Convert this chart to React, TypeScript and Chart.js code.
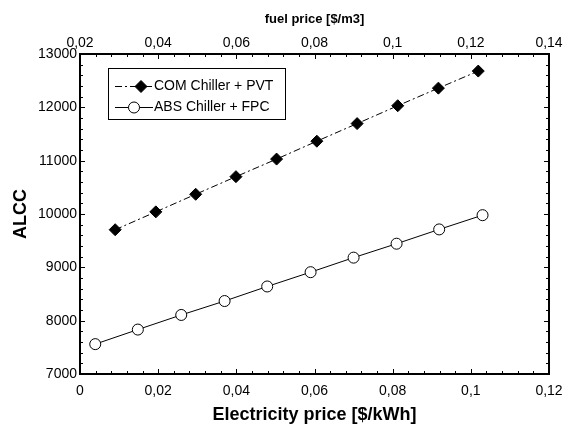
import { useEffect, useRef } from 'react';
import { Chart, registerables } from 'chart.js';

Chart.register(...registerables);

// ---- data ----
const seriesLabels = ['COM Chiller + PVT', 'ABS Chiller + FPC'];
const elecCOM = [0.009, 0.0194, 0.0296, 0.0399, 0.0503, 0.0606, 0.0709, 0.0813, 0.0917, 0.1019];
const alccCOM = [9705, 10040, 10370, 10700, 11030, 11365, 11695, 12030, 12360, 12680];
const elecABS = [0.0039, 0.0148, 0.0259, 0.037, 0.0479, 0.059, 0.07, 0.081, 0.0919, 0.103];
const alccABS = [7560, 7833, 8107, 8368, 8641, 8909, 9182, 9443, 9711, 9978];
const xTicks = [0, 0.02, 0.04, 0.06, 0.08, 0.1, 0.12];
const fuelTicks = [0.02, 0.04, 0.06, 0.08, 0.1, 0.12, 0.14];
const yTicks = [7000, 8000, 9000, 10000, 11000, 12000, 13000];

const FONT = '"Liberation Sans", Arial, sans-serif';
const fmt = (v: number) => String(Number(v.toFixed(3))).replace('.', ',');

const framePlugin = {
  id: 'frameTicksLegend',
  afterDraw(chart: any) {
    const { ctx, chartArea: a, scales } = chart;
    ctx.save();
    ctx.strokeStyle = '#000';
    ctx.lineWidth = 1;
    ctx.setLineDash([]);
    const hTicks = (scale: any, edge: number, dir: number, step: number, n: number) => {
      for (let i = 0; ; i++) {
        const v = scale.min + (i * step) / n;
        if (v > scale.max + 1e-9) break;
        const px = Math.round(scale.getPixelForValue(v)) + 0.5;
        const len = i % n === 0 ? 5 : 3;
        ctx.beginPath();
        ctx.moveTo(px, edge);
        ctx.lineTo(px, edge + dir * len);
        ctx.stroke();
      }
    };
    const vTicks = (scale: any, step: number, n: number) => {
      for (let i = 0; ; i++) {
        const v = scale.min + (i * step) / n;
        if (v > scale.max + 1e-9) break;
        const py = Math.round(scale.getPixelForValue(v)) + 0.5;
        const len = i % n === 0 ? 5 : 3;
        ctx.beginPath();
        ctx.moveTo(a.left, py);
        ctx.lineTo(a.left + len, py);
        ctx.moveTo(a.right, py);
        ctx.lineTo(a.right - len, py);
        ctx.stroke();
      }
    };
    hTicks(scales.x, a.bottom, -1, 0.02, 5);
    hTicks(scales.x2, a.top, 1, 0.02, 5);
    vTicks(scales.y, 1000, 5);

    // frame
    ctx.lineWidth = 2;
    ctx.strokeRect(a.left, a.top, a.right - a.left, a.bottom - a.top);

    // legend
    const lx = a.left + 28;
    const ly = a.top + 14;
    const lw = 177;
    const lh = 51;
    ctx.lineWidth = 1;
    ctx.fillStyle = '#fff';
    ctx.fillRect(lx, ly, lw, lh);
    ctx.strokeRect(lx + 0.5, ly + 0.5, lw, lh);
    const ds = chart.data.datasets;
    const rows = [ly + 18, ly + 39];
    ds.forEach((d: any, i: number) => {
      const ry = rows[i] + 0.5;
      ctx.save();
      ctx.lineWidth = d.borderWidth;
      ctx.strokeStyle = d.borderColor;
      ctx.setLineDash(d.borderDash || []);
      ctx.beginPath();
      ctx.moveTo(lx + 7, ry);
      ctx.lineTo(lx + 45, ry);
      ctx.stroke();
      ctx.restore();
      const cx = i === 0 ? lx + 33 : lx + 26;
      ctx.save();
      ctx.fillStyle = d.pointBackgroundColor;
      ctx.strokeStyle = d.pointBorderColor;
      ctx.lineWidth = 1;
      ctx.beginPath();
      if (d.pointStyle === 'rectRot') {
        const r = d.pointRadius;
        ctx.moveTo(cx, ry - r);
        ctx.lineTo(cx + r, ry);
        ctx.lineTo(cx, ry + r);
        ctx.lineTo(cx - r, ry);
        ctx.closePath();
      } else {
        ctx.arc(cx, ry, d.pointRadius, 0, Math.PI * 2);
      }
      ctx.fill();
      ctx.stroke();
      ctx.restore();
      ctx.fillStyle = '#000';
      ctx.font = '14px ' + FONT;
      ctx.textBaseline = 'middle';
      ctx.textAlign = 'left';
      ctx.fillText(d.label, lx + 46, rows[i]);
    });
    ctx.restore();
  },
};

export default function App() {
  const ref = useRef<HTMLCanvasElement>(null);
  useEffect(() => {
    document.body.style.margin = '0';
    const canvas = ref.current;
    if (!canvas) return;
    const chart = new Chart(canvas, {
      type: 'line',
      data: {
        datasets: [
          {
            label: seriesLabels[0],
            data: elecCOM.map((x, i) => ({ x, y: alccCOM[i] })),
            borderColor: '#000',
            borderWidth: 1,
            borderDash: [7, 3, 2, 3],
            pointStyle: 'rectRot',
            pointRadius: 6,
            pointBackgroundColor: '#000',
            pointBorderColor: '#000',
            pointBorderWidth: 1,
            fill: false,
            tension: 0,
            xAxisID: 'x',
            yAxisID: 'y',
          },
          {
            label: seriesLabels[1],
            data: elecABS.map((x, i) => ({ x, y: alccABS[i] })),
            borderColor: '#000',
            borderWidth: 1,
            pointStyle: 'circle',
            pointRadius: 5.5,
            pointBackgroundColor: '#fff',
            pointBorderColor: '#000',
            pointBorderWidth: 1,
            fill: false,
            tension: 0,
            xAxisID: 'x',
            yAxisID: 'y',
          },
        ],
      },
      options: {
        animation: false,
        responsive: false,
        events: [],
        layout: { padding: { left: 0, right: 14, top: 0, bottom: 0 } },
        plugins: { legend: { display: false }, tooltip: { enabled: false } },
        scales: {
          x: {
            type: 'linear',
            position: 'bottom',
            min: 0,
            max: 0.12,
            afterBuildTicks: (s: any) => {
              s.ticks = xTicks.map((value) => ({ value }));
            },
            afterFit: (s: any) => {
              s.height = 53;
              s.paddingLeft = 0;
              s.paddingRight = 0;
            },
            grid: { display: false, drawTicks: false },
            border: { display: false },
            ticks: {
              padding: 9,
              color: '#000',
              font: { family: FONT, size: 14 },
              maxRotation: 0,
              autoSkip: false,
              callback: (v: any) => fmt(Number(v)),
            },
            title: {
              display: true,
              text: 'Electricity price [$/kWh]',
              color: '#000',
              font: { family: FONT, size: 18, weight: 'bold' },
              padding: { top: 0, bottom: 1 },
            },
          },
          x2: {
            type: 'linear',
            position: 'top',
            min: 0.02,
            max: 0.14,
            afterBuildTicks: (s: any) => {
              s.ticks = fuelTicks.map((value) => ({ value }));
            },
            afterFit: (s: any) => {
              s.height = 54;
              s.paddingLeft = 0;
              s.paddingRight = 0;
            },
            grid: { display: false, drawTicks: false },
            border: { display: false },
            ticks: {
              padding: 2,
              color: '#000',
              font: { family: FONT, size: 14 },
              maxRotation: 0,
              autoSkip: false,
              callback: (v: any) => fmt(Number(v)),
            },
            title: {
              display: true,
              text: 'fuel price [$/m3]',
              color: '#000',
              font: { family: FONT, size: 13, weight: 'bold' },
              padding: { top: 12, bottom: 0 },
            },
          },
          y: {
            type: 'linear',
            position: 'left',
            min: 7000,
            max: 13000,
            afterBuildTicks: (s: any) => {
              s.ticks = yTicks.map((value) => ({ value }));
            },
            afterFit: (s: any) => {
              s.width = 80;
              s.paddingTop = 0;
              s.paddingBottom = 0;
            },
            grid: { display: false, drawTicks: false },
            border: { display: false },
            ticks: {
              padding: 3,
              color: '#000',
              font: { family: FONT, size: 14 },
              autoSkip: false,
              callback: (v: any) => String(v),
            },
            title: {
              display: true,
              text: 'ALCC',
              color: '#000',
              font: { family: FONT, size: 18, weight: 'bold' },
              padding: { top: 10, bottom: 0 },
            },
          },
        },
      },
      plugins: [framePlugin],
    } as any);
    return () => chart.destroy();
  }, []);
  return (
    <div style={{ width: 563, height: 427, background: '#fff' }}>
      <canvas ref={ref} width={563} height={427} style={{ display: 'block' }} />
    </div>
  );
}
